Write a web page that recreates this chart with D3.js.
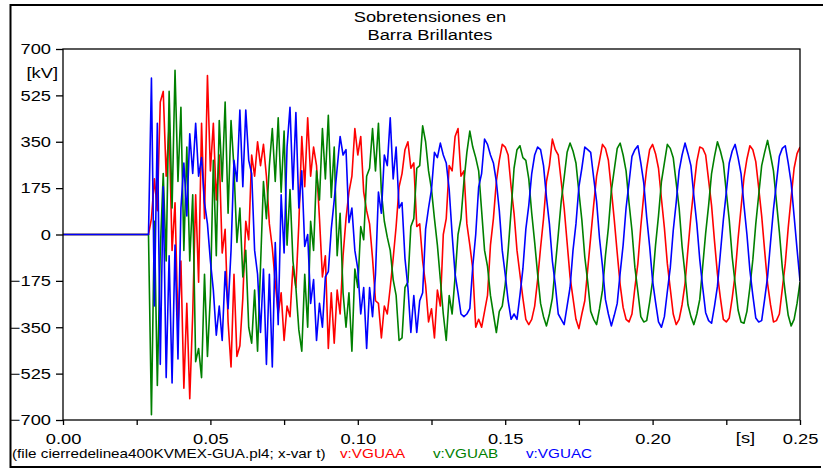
<!DOCTYPE html>
<html>
<head>
<meta charset="utf-8">
<script src="https://cdn.jsdelivr.net/npm/d3@7"></script>
<style>
body { margin: 0; background: #fff; }
text { font-family: "Liberation Sans", Arial, sans-serif; }
</style>
</head>
<body>
<div id="chart"></div>
<script>
// sampled curves: first sample at t0, one sample per dt (values in kV)
const t0 = 0.029;
const dt = 0.001;

const vguaa = [0,60,210,90,500,540,220,410,-60,120,-350,-100,-580,-260,-620,-300,150,-180,420,60,600,240,420,130,300,-70,20,-330,-500,-150,-460,-420,-240,50,-20,300,220,350,260,340,220,40,
-50,-180,-300,-220,-400,-270,-310,-120,-200,40,370,180,440,220,330,260,60,-160,-80,-430,-220,-410,-210,-300,-80,60,160,220,400,300,370,160,90,40,-90,-250,-260,-390,-270,-300,-200,-90,30,180,
230,320,350,250,270,30,40,-100,-190,-330,-280,-390,-210,-270,0,60,260,240,370,400,220,240,40,-40,-130,-350,-320,-350,-290,-230,-40,60,200,280,340,330,300,180,80,-60,-150,-240,-320,-340,-320,-270,
-170,-50,60,200,260,360,320,300,200,100,-30,-160,-240,-320,-355,-300,-250,-130,-10,
110,220,280,340,325,280,170,55,-70,-190,-275,-320,-330,-300,-200,-110,30,150,250,320,340,305,250,135,25,-110,-205,-300,-340,-320,-265,-185,-55,70,175,275,330,325,300,205,110,-25,-150,-240,-320,-330,-315,-240,-150,-15,
100,215,285,335,320,275,175,70,-60,-185,-265,-330,-325,-300,-205,-110,25,140,250,305,330];

const vguab = [0,-680,50,-570,-60,230,-100,540,100,620,200,480,-60,330,-100,150,-480,-430,-540,-150,-460,-230,280,-80,430,200,500,80,430,250,-30,100,-160,-60,-350,-410,-210,-440,-120,200,60,260,
400,200,440,160,390,-40,170,-100,-200,-360,-440,-150,-350,50,-60,240,130,400,210,450,140,330,-80,80,-220,-350,-220,-440,-130,-200,30,-20,220,250,400,240,420,160,50,-10,-60,-170,-230,-400,
-390,-200,-180,30,60,250,260,410,350,240,170,60,-40,-170,-300,-400,-230,-300,-160,0,60,200,310,390,330,290,240,90,-60,-120,-230,-300,-370,-290,-270,-190,-60,90,250,320,335,290,280,210,80,-30,
-150,-260,-310,-345,-300,-240,-120,0,125,215,310,345,315,270,160,55,-85,-180,-290,
-320,-340,-280,-210,-80,25,165,245,325,345,300,240,120,15,-125,-215,-310,-330,-325,-255,-175,-40,70,200,270,340,325,290,195,100,-45,-150,-265,-310,-340,-300,-245,-120,5,110,230,295,350,315,270,160,55,-85,-185,-285,
-330,-335,-290,-200,-95,40,150,260,310,355,300,240,125,10,-125,-220,-305,-345,-320,-260,-180];

const vguac = [0,590,-270,420,-490,180,-540,-80,-560,-40,-470,100,270,70,380,230,420,220,290,120,40,-100,-210,-380,-270,-400,-140,-280,-60,280,200,470,180,470,280,230,-60,-150,-370,-130,-490,-150,
-500,-30,-340,150,-70,330,480,170,460,100,240,-45,0,-260,-170,-400,-260,-350,-160,-140,20,130,250,370,300,320,45,100,-60,-130,-300,-200,-430,-200,-310,-150,160,80,300,260,440,210,330,100,
120,-90,-200,-370,-230,-370,-250,-220,20,100,170,310,290,345,300,270,170,0,-150,-220,-300,-310,-300,-280,-120,0,180,230,360,340,300,270,200,90,-60,-150,-250,-320,-300,-320,-230,-130,20,110,230,300,
330,320,260,140,40,-100,-190,-300,-320,-340,-270,-200,-60,40,180,250,330,320,310,
215,125,-15,-120,-245,-300,-345,-305,-260,-145,-40,100,195,295,320,335,270,195,65,-45,-175,-255,-330,-350,-310,-215,-125,15,120,240,300,345,305,260,145,40,-95,-200,-295,-325,-335,-270,-195,-70,55,160,270,315,340,290,
230,110,0,-135,-230,-315,-330,-325,-245,-160,-30,95,195,295,325,335,270,195,70,-55,-175];

const seriesNames = ["v:VGUAA", "v:VGUAB", "v:VGUAC"];
const seriesColors = ["#ff0000", "#008000", "#0000ff"];
const yTicks = [-700, -525, -350, -175, 0, 175, 350, 525, 700];
const xTicks = [0, 0.025, 0.05, 0.075, 0.1, 0.125, 0.15, 0.175, 0.2, 0.225, 0.25];
const xLabelled = [0, 0.05, 0.1, 0.15, 0.2, 0.25];
const titleLines = ["Sobretensiones en", "Barra Brillantes"];
const fileNote = "(file cierredelinea400KVMEX-GUA.pl4; x-var t)";

const w = 823, h = 468;
const sx = 1.22; // the reference text is a bit wider than plain Arial
const plotL = 63, plotR = 800, plotT = 49, plotB = 420;

const svg = d3.select("#chart").append("svg")
  .attr("width", w)
  .attr("height", h);

const x = d3.scaleLinear().domain([0, 0.25]).range([plotL, plotR]);
const y = d3.scaleLinear().domain([-700, 700]).range([plotB, plotT]);

function label(px, py, str, anchor, size, color) {
  return svg.append("text")
    .attr("transform", "translate(" + px + "," + py + ") scale(" + sx + ",1)")
    .attr("text-anchor", anchor)
    .style("font-size", size + "px")
    .attr("fill", color || "#000")
    .text(str);
}

// outer frame (top, left, bottom only)
svg.append("path")
  .attr("d", "M823,5H10.5V467H821")
  .attr("fill", "none")
  .attr("stroke", "#000")
  .attr("stroke-width", 2);

// title
titleLines.forEach((s, i) => label(430, 22 + i * 18, s, "middle", 15));

// curves
svg.append("clipPath").attr("id", "plotclip")
  .append("rect")
  .attr("x", plotL).attr("y", plotT)
  .attr("width", plotR - plotL).attr("height", plotB - plotT);

const line = d3.line()
  .x(d => x(d.t))
  .y(d => y(d.v));

[vguaa, vguab, vguac].forEach((vals, i) => {
  const pts = [{t: 0, v: 0}].concat(vals.map((v, k) => ({t: t0 + k * dt, v: v})));
  svg.append("path")
    .datum(pts)
    .attr("clip-path", "url(#plotclip)")
    .attr("fill", "none")
    .attr("stroke", seriesColors[i])
    .attr("stroke-width", 1.6)
    .attr("stroke-linejoin", "round")
    .attr("d", line);
});

// plot box
svg.append("rect")
  .attr("x", plotL).attr("y", plotT)
  .attr("width", plotR - plotL).attr("height", plotB - plotT)
  .attr("fill", "none")
  .attr("stroke", "#000")
  .attr("stroke-width", 1.3);

// axes
const yAxis = svg.append("g")
  .attr("transform", "translate(" + plotL + ",0)")
  .call(d3.axisLeft(y).tickValues(yTicks).tickSize(7).tickPadding(5).tickSizeOuter(0));
yAxis.select(".domain").remove();
yAxis.selectAll(".tick line").attr("stroke", "#000").attr("stroke-width", 1.3);
yAxis.selectAll(".tick text")
  .attr("x", -12 / sx)
  .attr("transform", "scale(" + sx + ",1)")
  .style("font-size", "15px")
  .style("font-family", "'Liberation Sans', Arial, sans-serif")
  .attr("fill", "#000");

const xAxis = svg.append("g")
  .attr("transform", "translate(0," + plotB + ")")
  .call(d3.axisBottom(x).tickValues(xTicks).tickSize(5).tickPadding(8).tickSizeOuter(0)
    .tickFormat(d => xLabelled.some(v => Math.abs(v - d) < 1e-9) ? d3.format(".2f")(d) : ""));
xAxis.select(".domain").remove();
xAxis.selectAll(".tick line").attr("stroke", "#000").attr("stroke-width", 1.3);
xAxis.selectAll(".tick text")
  .attr("transform", "scale(" + sx + ",1)")
  .style("font-size", "15px")
  .style("font-family", "'Liberation Sans', Arial, sans-serif")
  .attr("fill", "#000");

// units
label(58, 78, "[kV]", "end", 15);
label(x(0.2315), 443, "[s]", "middle", 15);

// footer with the variable names
label(12, 458, fileNote, "start", 12.5, "#000");
const legendX = [340, 433, 526];
seriesNames.forEach((s, i) => label(legendX[i], 458, s, "start", 12.5, seriesColors[i]));
</script>
</body>
</html>
